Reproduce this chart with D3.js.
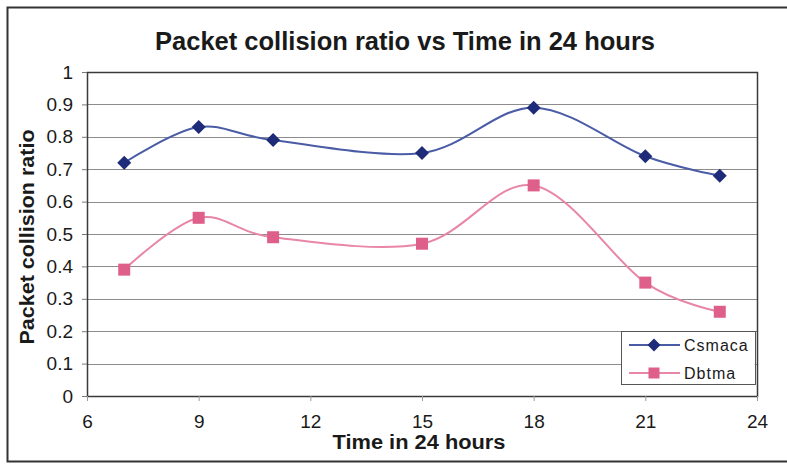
<!DOCTYPE html>
<html>
<head>
<meta charset="utf-8">
<script src="https://cdn.jsdelivr.net/npm/d3@7"></script>
<style>
  html, body { margin: 0; padding: 0; background: #fff; }
  svg { display: block; }
  text { font-family: "Liberation Sans", Arial, sans-serif; fill: #1a1a1a; }
</style>
</head>
<body>
<svg id="chart" width="787" height="464"></svg>
<script>
// Hours of the day at which collisions were sampled
const hours = [7, 9, 11, 15, 18, 21, 23];
// Collision ratio per protocol
const csmaca = [0.72, 0.83, 0.79, 0.75, 0.89, 0.74, 0.68];
const dbtma  = [0.39, 0.55, 0.49, 0.47, 0.65, 0.35, 0.26];
const seriesNames = ["Csmaca", "Dbtma"];
const xTicks = [6, 9, 12, 15, 18, 21, 24];
const yTicks = [0, 0.1, 0.2, 0.3, 0.4, 0.5, 0.6, 0.7, 0.8, 0.9, 1];

const svg = d3.select("#chart");
const W = 787, H = 464;
const plot = { left: 87, right: 757, top: 72, bottom: 396 };

const x = d3.scaleLinear().domain([6, 24]).range([plot.left, plot.right]);
const y = d3.scaleLinear().domain([0, 1]).range([plot.bottom, plot.top]);

// outer chart frame
svg.append("path")
  .attr("d", `M${W + 5},7.5 H7.5 V461.5 H${W + 5}`)
  .attr("fill", "none").attr("stroke", "#333").attr("stroke-width", 2);

// horizontal gridlines
svg.append("g")
  .selectAll("line").data(yTicks.slice(1, -1)).join("line")
  .attr("x1", plot.left).attr("x2", plot.right)
  .attr("y1", d => Math.round(y(d)) + 0.5).attr("y2", d => Math.round(y(d)) + 0.5)
  .attr("stroke", "#8c8c8c").attr("stroke-width", 1);

// plot area border
svg.append("rect")
  .attr("x", plot.left + 0.5).attr("y", plot.top + 0.5)
  .attr("width", plot.right - plot.left).attr("height", plot.bottom - plot.top)
  .attr("fill", "none").attr("stroke", "#3a3a3a").attr("stroke-width", 1.5);

// axes
const yAxis = d3.axisLeft(y).tickValues(yTicks)
  .tickFormat(d => d3.format("~g")(d)).tickSize(5).tickPadding(9);
const gy = svg.append("g").attr("transform", `translate(${plot.left},0)`).call(yAxis);
gy.select(".domain").remove();
gy.selectAll("line").attr("stroke", "#777");
gy.selectAll("text").style("font-size", "19px").attr("fill", "#1a1a1a");

const xAxis = d3.axisBottom(x).tickValues(xTicks).tickSize(5).tickPadding(14);
const gx = svg.append("g").attr("transform", `translate(0,${plot.bottom})`).call(xAxis);
gx.select(".domain").remove();
gx.selectAll("line").attr("stroke", "#999");
gx.selectAll("text").style("font-size", "19px").attr("fill", "#1a1a1a");

// lines (smoothed)
const series = [
  { name: seriesNames[0], values: csmaca, line: "#4a5ca6", mark: "#1e2b78", shape: "diamond" },
  { name: seriesNames[1], values: dbtma,  line: "#e886a6", mark: "#df5f8b", shape: "square" }
];
const lineGen = d3.line()
  .x((d, i) => x(hours[i])).y(d => y(d))
  .curve(d3.curveCardinal.tension(0));

const diamond = s => `M0,${-s} L${s},0 L0,${s} L${-s},0 Z`;

series.forEach(s => {
  svg.append("path").datum(s.values)
    .attr("d", lineGen).attr("fill", "none")
    .attr("stroke", s.line).attr("stroke-width", 2);
  const g = svg.append("g");
  s.values.forEach((v, i) => {
    if (s.shape === "diamond") {
      g.append("path").attr("d", diamond(7))
        .attr("transform", `translate(${x(hours[i])},${y(v)})`)
        .attr("fill", s.mark);
    } else {
      g.append("rect").attr("x", x(hours[i]) - 6).attr("y", y(v) - 6)
        .attr("width", 12).attr("height", 12).attr("fill", s.mark);
    }
  });
});

// legend
const lg = svg.append("g");
lg.append("rect").attr("x", 621.5).attr("y", 331.5).attr("width", 134).attr("height", 53)
  .attr("fill", "#fff").attr("stroke", "#555").attr("stroke-width", 1);
series.forEach((s, i) => {
  const cy = 345 + i * 28;
  lg.append("line").attr("x1", 629).attr("x2", 680).attr("y1", cy).attr("y2", cy)
    .attr("stroke", s.line).attr("stroke-width", 2);
  if (s.shape === "diamond") {
    lg.append("path").attr("d", diamond(6.5)).attr("transform", `translate(654,${cy})`).attr("fill", s.mark);
  } else {
    lg.append("rect").attr("x", 648.5).attr("y", cy - 5.5).attr("width", 11).attr("height", 11).attr("fill", s.mark);
  }
  lg.append("text").attr("x", 684).attr("y", cy + 6)
    .style("font-size", "16px").style("letter-spacing", "1px").text(s.name);
});

// titles
svg.append("text").attr("x", 405).attr("y", 50).attr("text-anchor", "middle")
  .style("font-size", "26px").style("font-weight", "bold")
  .attr("textLength", 500).attr("lengthAdjust", "spacingAndGlyphs")
  .text("Packet collision ratio vs Time in 24 hours");

svg.append("text").attr("x", 419).attr("y", 449).attr("text-anchor", "middle")
  .style("font-size", "20px").style("font-weight", "bold")
  .attr("textLength", 173).attr("lengthAdjust", "spacingAndGlyphs")
  .text("Time in 24 hours");

svg.append("text").attr("transform", "translate(34,237) rotate(-90)")
  .attr("text-anchor", "middle")
  .style("font-size", "20px").style("font-weight", "bold")
  .attr("textLength", 215).attr("lengthAdjust", "spacingAndGlyphs")
  .text("Packet collision ratio");
</script>
</body>
</html>
